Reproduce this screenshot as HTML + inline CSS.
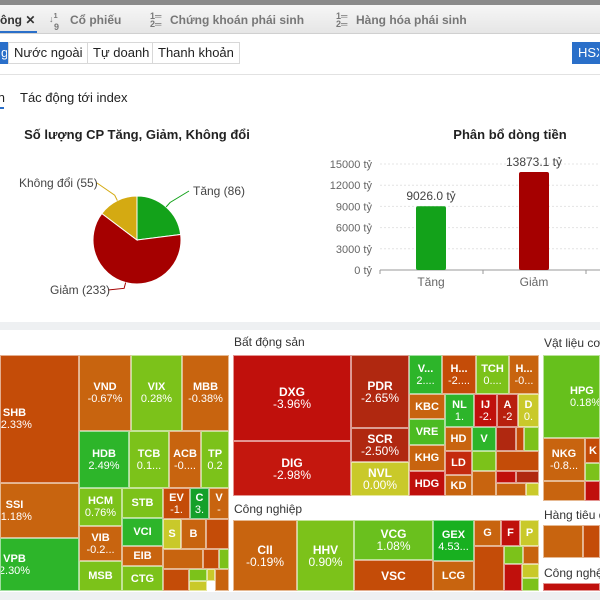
<!DOCTYPE html>
<html><head><meta charset="utf-8">
<style>
*{box-sizing:border-box;margin:0;padding:0}
body{width:600px;height:600px;overflow:hidden;background:#fff;font-family:"Liberation Sans",sans-serif;position:relative;color:#222}
#root{position:absolute;left:0;top:0;width:600px;height:600px;overflow:hidden}
.a{position:absolute}
.t{position:absolute;border:1px solid rgba(255,255,255,.55);color:#fff;font-size:11px;line-height:12px;text-align:center;display:flex;flex-direction:column;justify-content:center;align-items:center;overflow:hidden;white-space:nowrap}
.r{background:#c0100c}.dr{background:#b02810}.o{background:#c8640f}.or{background:#c44c08}.g{background:#2db52a}.l{background:#7cc21a}.y{background:#c9c92a}.m{background:#5cbf1f}
.btn{position:absolute;top:42px;height:22px;border:1px solid #d8d8d8;font-size:13px;line-height:20px;padding:0 5px;background:#fff;overflow:hidden;white-space:nowrap}
.hd{position:absolute;font-size:12px;color:#333;white-space:nowrap;overflow:hidden}
.tab{position:absolute;top:13px;font-size:12px;font-weight:bold;color:#777;white-space:nowrap}
.ic{position:absolute;top:12px;font-size:9px;color:#777;font-weight:bold;line-height:8px}
</style></head><body><div id="root">
<div class="a" style="left:0;top:0;width:600px;height:5px;background:#8a8a8a"></div>
<div class="a" style="left:0;top:5px;width:600px;height:29px;background:linear-gradient(#f6f6f6,#e6e6e6);border-bottom:1px solid #d0d0d0"></div>
<div class="tab" style="left:0;color:#333">ông ✕</div>
<div class="a" style="left:0;top:31px;width:37px;height:2px;background:#2a6fc9"></div>
<div class="ic" style="left:49px">↓<sup>1</sup><br>&nbsp;&nbsp;9</div>
<div class="tab" style="left:70px">Cổ phiếu</div>
<div class="ic" style="left:150px">1═<br>2═</div>
<div class="tab" style="left:170px">Chứng khoán phái sinh</div>
<div class="ic" style="left:336px">1═<br>2═</div>
<div class="tab" style="left:356px">Hàng hóa phái sinh</div>
<div class="btn" style="left:0;width:8px;background:#2a6fc9;border-color:#2a6fc9;color:#fff;padding:0">g</div>
<div class="btn" style="left:8px">Nước ngoài</div>
<div class="btn" style="left:87px">Tự doanh</div>
<div class="btn" style="left:152px">Thanh khoản</div>
<div class="btn" style="left:572px;width:28px;background:#2a6fc9;border-color:#2a6fc9;color:#fff">HSX</div>
<div class="a" style="left:0;top:74px;width:600px;height:1px;background:#e2e2e2"></div>
<div class="a" style="left:0;top:90px;font-size:13px;width:5px;overflow:hidden;direction:rtl">n</div>
<div class="a" style="left:0;top:107px;width:4px;height:2px;background:#2a6fc9"></div>
<div class="a" style="left:20px;top:90px;font-size:13px">Tác động tới index</div>

<svg class="a" style="left:0;top:110px" width="600" height="215">
<text x="137" y="29" text-anchor="middle" font-size="13" font-weight="bold" fill="#222">Số lượng CP Tăng, Giảm, Không đổi</text>
<g id="pie"></g>
<text x="510" y="29" text-anchor="middle" font-size="13" font-weight="bold" fill="#222">Phân bổ dòng tiền</text>
<g id="bars"></g>
</svg>
<div class="a" style="left:0;top:322px;width:600px;height:8px;background:#eef0f2"></div>
<div class="a" style="left:0;top:592px;width:600px;height:8px;background:#eef0f2"></div>

<div class="hd" style="left:234px;top:335px">Bất động sản</div>
<div class="hd" style="left:234px;top:502px">Công nghiệp</div>
<div class="hd" style="left:544px;top:336px;width:56px">Vật liệu cơ bản</div>
<div class="hd" style="left:544px;top:508px;width:56px">Hàng tiêu dùng</div>
<div class="hd" style="left:544px;top:566px;width:56px">Công nghệ</div>

<!-- left panel -->
<div class="t or" style="left:0;top:355px;width:79px;height:128px"><div style="position:relative;left:-25px"><b>SHB</b><br>-2.33%</div></div>
<div class="t o" style="left:0;top:483px;width:79px;height:55px"><div style="position:relative;left:-25px"><b>SSI</b><br>-1.18%</div></div>
<div class="t g" style="left:0;top:538px;width:79px;height:53px"><div style="position:relative;left:-25px"><b>VPB</b><br>2.30%</div></div>
<div class="t o" style="left:79px;top:355px;width:52px;height:76px"><b>VND</b>-0.67%</div>
<div class="t l" style="left:131px;top:355px;width:51px;height:76px"><b>VIX</b>0.28%</div>
<div class="t o" style="left:182px;top:355px;width:47px;height:76px"><b>MBB</b>-0.38%</div>
<div class="t g" style="left:79px;top:431px;width:50px;height:57px"><b>HDB</b>2.49%</div>
<div class="t l" style="left:129px;top:431px;width:40px;height:57px"><b>TCB</b>0.1...</div>
<div class="t o" style="left:169px;top:431px;width:32px;height:57px"><b>ACB</b>-0....</div>
<div class="t l" style="left:201px;top:431px;width:28px;height:57px"><b>TP</b>0.2</div>
<div class="t l" style="left:79px;top:488px;width:43px;height:38px"><b>HCM</b>0.76%</div>
<div class="t o" style="left:79px;top:526px;width:43px;height:35px"><b>VIB</b>-0.2...</div>
<div class="t l" style="left:79px;top:561px;width:43px;height:30px"><b>MSB</b></div>
<div class="t l" style="left:122px;top:488px;width:41px;height:30px"><b>STB</b></div>
<div class="t g" style="left:122px;top:518px;width:41px;height:28px"><b>VCI</b></div>
<div class="t o" style="left:122px;top:546px;width:41px;height:20px"><b>EIB</b></div>
<div class="t l" style="left:122px;top:566px;width:41px;height:25px"><b>CTG</b></div>
<div class="t or" style="left:163px;top:488px;width:27px;height:31px"><b>EV</b>-1.</div>
<div class="t g" style="left:190px;top:488px;width:19px;height:31px;background:#14a02a"><b>C</b>3.</div>
<div class="t o" style="left:209px;top:488px;width:20px;height:31px"><b>V</b>-</div>
<div class="t y" style="left:163px;top:519px;width:18px;height:30px"><b>S</b></div>
<div class="t o" style="left:181px;top:519px;width:25px;height:30px"><b>B</b></div>
<div class="t or" style="left:206px;top:519px;width:23px;height:30px"></div>
<div class="t o" style="left:163px;top:549px;width:40px;height:20px"></div>
<div class="t or" style="left:203px;top:549px;width:16px;height:20px"></div>
<div class="t l" style="left:219px;top:549px;width:10px;height:20px"></div>
<div class="t or" style="left:163px;top:569px;width:26px;height:22px"></div>
<div class="t l" style="left:189px;top:569px;width:18px;height:12px"></div>
<div class="t y" style="left:207px;top:569px;width:8px;height:12px"></div>
<div class="t o" style="left:215px;top:569px;width:14px;height:22px"></div>
<div class="t y" style="left:189px;top:581px;width:18px;height:10px"></div>

<!-- Bat dong san -->
<div class="t r" style="left:233px;top:355px;width:118px;height:86px;font-size:12px"><b>DXG</b>-3.96%</div>
<div class="t r" style="left:233px;top:441px;width:118px;height:55px;font-size:12px;background:#c4170e"><b>DIG</b>-2.98%</div>
<div class="t dr" style="left:351px;top:355px;width:58px;height:73px;font-size:12px"><b>PDR</b>-2.65%</div>
<div class="t dr" style="left:351px;top:428px;width:58px;height:34px;font-size:12px"><b>SCR</b>-2.50%</div>
<div class="t y" style="left:351px;top:462px;width:58px;height:34px;font-size:12px"><b>NVL</b>0.00%</div>
<div class="t g" style="left:409px;top:355px;width:33px;height:39px"><b>V...</b>2....</div>
<div class="t or" style="left:442px;top:355px;width:34px;height:39px"><b>H...</b>-2....</div>
<div class="t l" style="left:476px;top:355px;width:33px;height:39px"><b>TCH</b>0....</div>
<div class="t o" style="left:509px;top:355px;width:30px;height:39px"><b>H...</b>-0...</div>
<div class="t o" style="left:409px;top:394px;width:36px;height:25px"><b>KBC</b></div>
<div class="t l" style="left:409px;top:419px;width:36px;height:26px;background:#4cbb22"><b>VRE</b></div>
<div class="t o" style="left:409px;top:445px;width:36px;height:26px"><b>KHG</b></div>
<div class="t r" style="left:409px;top:471px;width:36px;height:25px"><b>HDG</b></div>
<div class="t g" style="left:445px;top:394px;width:29px;height:33px"><b>NL</b>1.</div>
<div class="t r" style="left:474px;top:394px;width:23px;height:33px"><b>IJ</b>-2.</div>
<div class="t r" style="left:497px;top:394px;width:21px;height:33px;background:#b8200e"><b>A</b>-2</div>
<div class="t y" style="left:518px;top:394px;width:21px;height:33px"><b>D</b>0.</div>
<div class="t o" style="left:445px;top:427px;width:27px;height:24px"><b>HD</b></div>
<div class="t g" style="left:472px;top:427px;width:24px;height:24px"><b>V</b></div>
<div class="t r" style="left:445px;top:451px;width:27px;height:24px;background:#c42a0e"><b>LD</b></div>
<div class="t o" style="left:445px;top:475px;width:27px;height:21px"><b>KD</b></div>
<div class="t dr" style="left:496px;top:427px;width:20px;height:24px"></div>
<div class="t or" style="left:516px;top:427px;width:8px;height:24px"></div>
<div class="t l" style="left:524px;top:427px;width:15px;height:24px"></div>
<div class="t l" style="left:472px;top:451px;width:24px;height:20px"></div>
<div class="t or" style="left:496px;top:451px;width:43px;height:20px"></div>
<div class="t o" style="left:472px;top:471px;width:24px;height:25px"></div>
<div class="t r" style="left:496px;top:471px;width:20px;height:12px"></div>
<div class="t dr" style="left:516px;top:471px;width:23px;height:12px"></div>
<div class="t o" style="left:496px;top:483px;width:30px;height:13px"></div>
<div class="t y" style="left:526px;top:483px;width:13px;height:13px"></div>

<!-- Cong nghiep -->
<div class="t o" style="left:233px;top:520px;width:64px;height:71px;font-size:12px"><b>CII</b>-0.19%</div>
<div class="t l" style="left:297px;top:520px;width:57px;height:71px;font-size:12px"><b>HHV</b>0.90%</div>
<div class="t l" style="left:354px;top:520px;width:79px;height:40px;font-size:12px;background:#6ac01e"><b>VCG</b>1.08%</div>
<div class="t or" style="left:354px;top:560px;width:79px;height:31px;font-size:12px"><b>VSC</b></div>
<div class="t g" style="left:433px;top:520px;width:41px;height:41px;background:#18b020"><b>GEX</b>4.53...</div>
<div class="t o" style="left:433px;top:561px;width:41px;height:30px"><b>LCG</b></div>
<div class="t o" style="left:474px;top:520px;width:27px;height:26px"><b>G</b></div>
<div class="t r" style="left:501px;top:520px;width:19px;height:26px"><b>F</b></div>
<div class="t y" style="left:520px;top:520px;width:19px;height:26px"><b>P</b></div>
<div class="t or" style="left:474px;top:546px;width:30px;height:45px"></div>
<div class="t l" style="left:504px;top:546px;width:19px;height:18px"></div>
<div class="t o" style="left:523px;top:546px;width:16px;height:18px"></div>
<div class="t r" style="left:504px;top:564px;width:18px;height:27px"></div>
<div class="t y" style="left:522px;top:564px;width:17px;height:14px"></div>
<div class="t l" style="left:522px;top:578px;width:17px;height:13px"></div>

<!-- right -->
<div class="t m" style="left:543px;top:355px;width:57px;height:83px;background:#66c01c;align-items:flex-start;padding-left:26px"><b>HPG</b>0.18%</div>
<div class="t o" style="left:543px;top:438px;width:42px;height:43px"><b>NKG</b>-0.8...</div>
<div class="t or" style="left:585px;top:438px;width:15px;height:25px;align-items:flex-start;padding-left:3px"><b>K</b></div>
<div class="t l" style="left:585px;top:463px;width:15px;height:18px"></div>
<div class="t o" style="left:543px;top:481px;width:42px;height:20px"></div>
<div class="t r" style="left:585px;top:481px;width:15px;height:20px"></div>
<div class="t o" style="left:543px;top:525px;width:40px;height:33px"></div>
<div class="t or" style="left:583px;top:525px;width:17px;height:33px"></div>
<div class="t r" style="left:543px;top:583px;width:57px;height:8px"></div>
</div>
<script>
const pieLabels=["Tăng","Giảm","Không đổi"];
const pieValues=[86,233,55];
const pieColors=["#13a21a","#a50000","#d4aa12"];
const barCats=["Tăng","Giảm"];
const barValues=[9026.0,13873.1];
const barColors=["#13a21a","#a50000"];
const yTicks=[0,3000,6000,9000,12000,15000];
const NS="http://www.w3.org/2000/svg";
function mk(t,a,p){const e=document.createElementNS(NS,t);for(const k in a)e.setAttribute(k,a[k]);p.appendChild(e);return e;}
const pie=document.getElementById('pie');
const cx=137,cy=130,R=44,total=pieValues.reduce((a,b)=>a+b,0);
let ang=0;
const labelPos=[[193,85],[50,184],[19,77]];
pieValues.forEach((v,i)=>{
 const a0=ang,a1=ang+v/total*2*Math.PI;ang=a1;
 const p=a=>[cx+R*Math.sin(a),cy-R*Math.cos(a)];
 const [x0,y0]=p(a0),[x1,y1]=p(a1);
 const s=mk('path',{d:`M${cx},${cy}L${x0},${y0}A${R},${R} 0 ${a1-a0>Math.PI?1:0} 1 ${x1},${y1}Z`,fill:pieColors[i],stroke:'#fff','stroke-width':1},pie);
 
 
 const am=(a0+a1)/2;const [ex,ey]=[cx+(R+6)*Math.sin(am),cy-(R+6)*Math.cos(am)];
 const lp=labelPos[i];
 const lx=lp[0]<cx?lp[0]+(i==2?78:58):lp[0]-4;
 mk('path',{d:`M${cx+R*Math.sin(am)},${cy-R*Math.cos(am)}L${ex},${ey}L${lx},${lp[1]-4}`,fill:'none',stroke:pieColors[i],'stroke-width':1},pie);
 const t=mk('text',{x:lp[0],y:lp[1],'font-size':12,fill:'#444'},pie);
 t.textContent=pieLabels[i]+" ("+v+")";
 
 
});
const bars=document.getElementById('bars');
const y0=160,ymax=15000,ph=106;
const ys=v=>y0-v/ymax*ph;
const xs=i=>431+i*103;
yTicks.forEach(v=>{
 mk('line',{x1:380,x2:600,y1:ys(v),y2:ys(v),stroke:'#e4e4e4','stroke-dasharray':'2,2'},bars);
 const t=mk('text',{x:372,y:ys(v)+4,'text-anchor':'end','font-size':11,fill:'#666'},bars);
 t.textContent=v+" tỷ";
 
 
});
mk('line',{x1:380,x2:600,y1:y0,y2:y0,stroke:'#999'},bars);
[0,1,2].forEach(i=>mk('line',{x1:xs(i)-51,x2:xs(i)-51,y1:y0,y2:y0+4,stroke:'#999'},bars));
barValues.forEach((v,i)=>{
 const r=mk('rect',{x:xs(i)-15,y:ys(v),width:30,height:y0-ys(v),rx:2,fill:barColors[i]},bars);
 
 
 const t=mk('text',{x:xs(i),y:ys(v)-6,'text-anchor':'middle','font-size':12,fill:'#444'},bars);
 t.textContent=v.toFixed(1)+" tỷ";
 
 
 const c=mk('text',{x:xs(i),y:y0+16,'text-anchor':'middle','font-size':12,fill:'#666'},bars);
 c.textContent=barCats[i];
 
 
});
</script>
</body></html>
